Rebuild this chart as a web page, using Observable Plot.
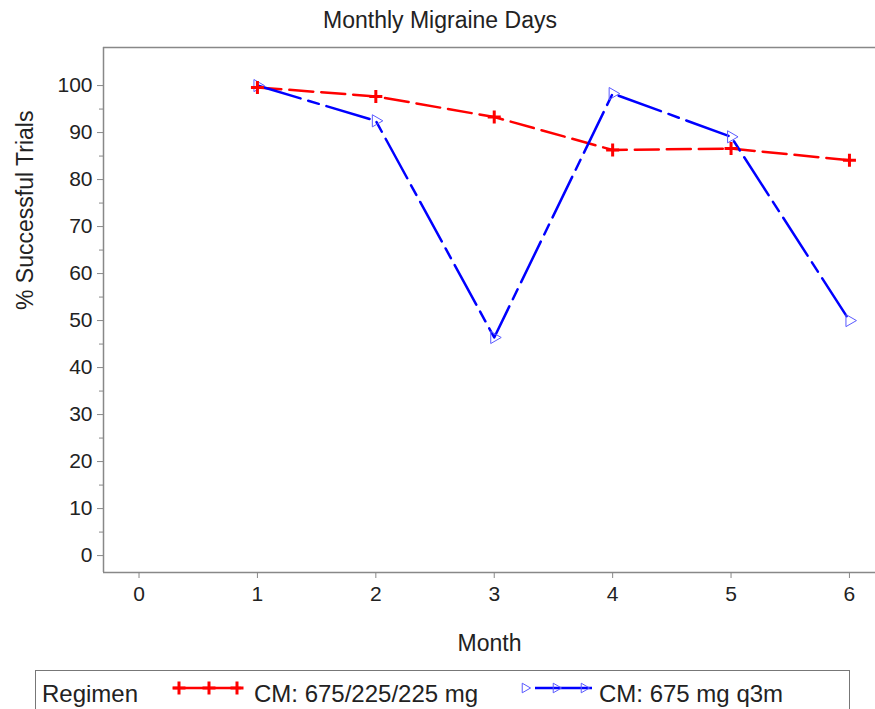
<!DOCTYPE html>
<html>
<head>
<meta charset="utf-8">
<script src="https://cdn.jsdelivr.net/npm/d3@7"></script>
<script src="https://cdn.jsdelivr.net/npm/@observablehq/plot@0.6"></script>
<style>
  html, body { margin: 0; padding: 0; background: #fff; overflow: hidden; }
  body { width: 875px; height: 709px; position: relative; font-family: "Liberation Sans", Arial, sans-serif; }
  #title { position: absolute; left: 0; top: 7px; width: 880px; text-align: center; font-size: 23px; color: #222; }
  #chart { position: absolute; left: 0; top: 40px; }
  #legend { position: absolute; left: 35px; top: 670px; }
</style>
</head>
<body>
<div id="title">Monthly Migraine Days</div>
<div id="chart"></div>
<svg id="legend" width="840" height="39"></svg>
<script>
const months = [1, 2, 3, 4, 5, 6];
const seriesNames = ["CM: 675/225/225 mg", "CM: 675 mg q3m"];
const valuesA = [99.6, 97.7, 93.3, 86.3, 86.6, 84.1];
const valuesB = [100, 92.5, 46.4, 98.3, 89.1, 50.0];
const xTicks = [0, 1, 2, 3, 4, 5, 6];
const yTicks = [0, 10, 20, 30, 40, 50, 60, 70, 80, 90, 100];
const yMinorTicks = [5, 15, 25, 35, 45, 55, 65, 75, 85, 95];
const legendTitle = "Regimen";

const dataA = months.map((m, i) => ({month: m, value: valuesA[i], series: seriesNames[0]}));
const dataB = months.map((m, i) => ({month: m, value: valuesB[i], series: seriesNames[1]}));

const plusSymbol = {
  draw(context, size) {
    const r = Math.sqrt(size / Math.PI);
    context.moveTo(-r, 0); context.lineTo(r, 0);
    context.moveTo(0, -r); context.lineTo(0, r);
  }
};

const RED = "#ff0000", BLUE = "#0000ff", LIGHTBLUE = "#5a5aff", GRAY = "#888";
const yDomain = [-3.6, 108.1];
const xDomain = [-0.3, 6.22];
const FONT = "'Liberation Sans', Arial, sans-serif";

const chart = Plot.plot({
  width: 875,
  height: 620,
  marginLeft: 103,
  marginRight: 0,
  marginTop: 7,
  marginBottom: 88,
  style: {fontFamily: FONT, fontSize: "21px", color: "#222", background: "#fff"},
  x: {type: "linear", domain: xDomain},
  y: {type: "linear", domain: yDomain},
  marks: [
    Plot.ruleY([yDomain[1]], {stroke: GRAY, strokeWidth: 1.5}),
    Plot.ruleY([yDomain[0]], {stroke: GRAY, strokeWidth: 1.5}),
    Plot.ruleX([xDomain[0]], {stroke: GRAY, strokeWidth: 1.5}),
    Plot.axisX({ticks: xTicks, tickFormat: d3.format("d"), tickSize: 6, tickPadding: 8, stroke: GRAY, fill: "#222", fontSize: 21, label: null}),
    Plot.axisY({ticks: yTicks, tickFormat: d3.format("d"), tickSize: 6, tickPadding: 5, stroke: GRAY, fill: "#222", fontSize: 21, label: null}),
    Plot.axisY({ticks: yMinorTicks, tickSize: 4, tickFormat: () => "", stroke: GRAY, label: null}),
    Plot.text(["Month"], {frameAnchor: "bottom", dy: 78, fontSize: 23, fill: "#222"}),
    Plot.text(["% Successful Trials"], {frameAnchor: "left", dx: -78, rotate: -90, fontSize: 23, fill: "#222"}),
    Plot.line(dataA, {x: "month", y: "value", stroke: RED, strokeWidth: 2.5, strokeDasharray: "24,8"}),
    Plot.line(dataB, {x: "month", y: "value", stroke: BLUE, strokeWidth: 2.5, strokeDasharray: "45,8,11,8"}),
    Plot.dot(dataB, {x: "month", y: "value", symbol: "triangle", rotate: 90, r: 4.5, fill: "none", stroke: LIGHTBLUE, strokeWidth: 1}),
    Plot.dot(dataA, {x: "month", y: "value", symbol: plusSymbol, r: 6.5, fill: "none", stroke: RED, strokeWidth: 3})
  ]
});
document.getElementById("chart").appendChild(chart);

// Legend
const lg = d3.select("#legend");
lg.append("rect").attr("x", 0.5).attr("y", 0.5).attr("width", 814).attr("height", 60)
  .attr("fill", "none").attr("stroke", "#777").attr("stroke-width", 1);
lg.append("text").attr("x", 7).attr("y", 32).attr("font-size", 24).attr("fill", "#222")
  .attr("font-family", FONT).text(legendTitle);
lg.append("line").attr("x1", 138).attr("x2", 206).attr("y1", 18).attr("y2", 18)
  .attr("stroke", RED).attr("stroke-width", 2.5);
[144, 174, 202].forEach(x => {
  lg.append("path").attr("d", `M${x-6.5},18H${x+6.5}M${x},11.5V24.5`).attr("stroke", RED).attr("stroke-width", 3).attr("fill", "none");
});
lg.append("text").attr("x", 219).attr("y", 32).attr("font-size", 24).attr("fill", "#222")
  .attr("font-family", FONT).text(seriesNames[0]);
lg.append("line").attr("x1", 500).attr("x2", 557).attr("y1", 18).attr("y2", 18)
  .attr("stroke", BLUE).attr("stroke-width", 2.5);
const tri = d3.symbol(d3.symbolTriangle, 40)();
[490, 521, 549].forEach(x => {
  lg.append("path").attr("d", tri).attr("transform", `translate(${x},18) rotate(90)`)
    .attr("fill", "none").attr("stroke", LIGHTBLUE).attr("stroke-width", 1);
});
lg.append("text").attr("x", 564).attr("y", 32).attr("font-size", 24).attr("fill", "#222")
  .attr("font-family", FONT).text(seriesNames[1]);
</script>
</body>
</html>
